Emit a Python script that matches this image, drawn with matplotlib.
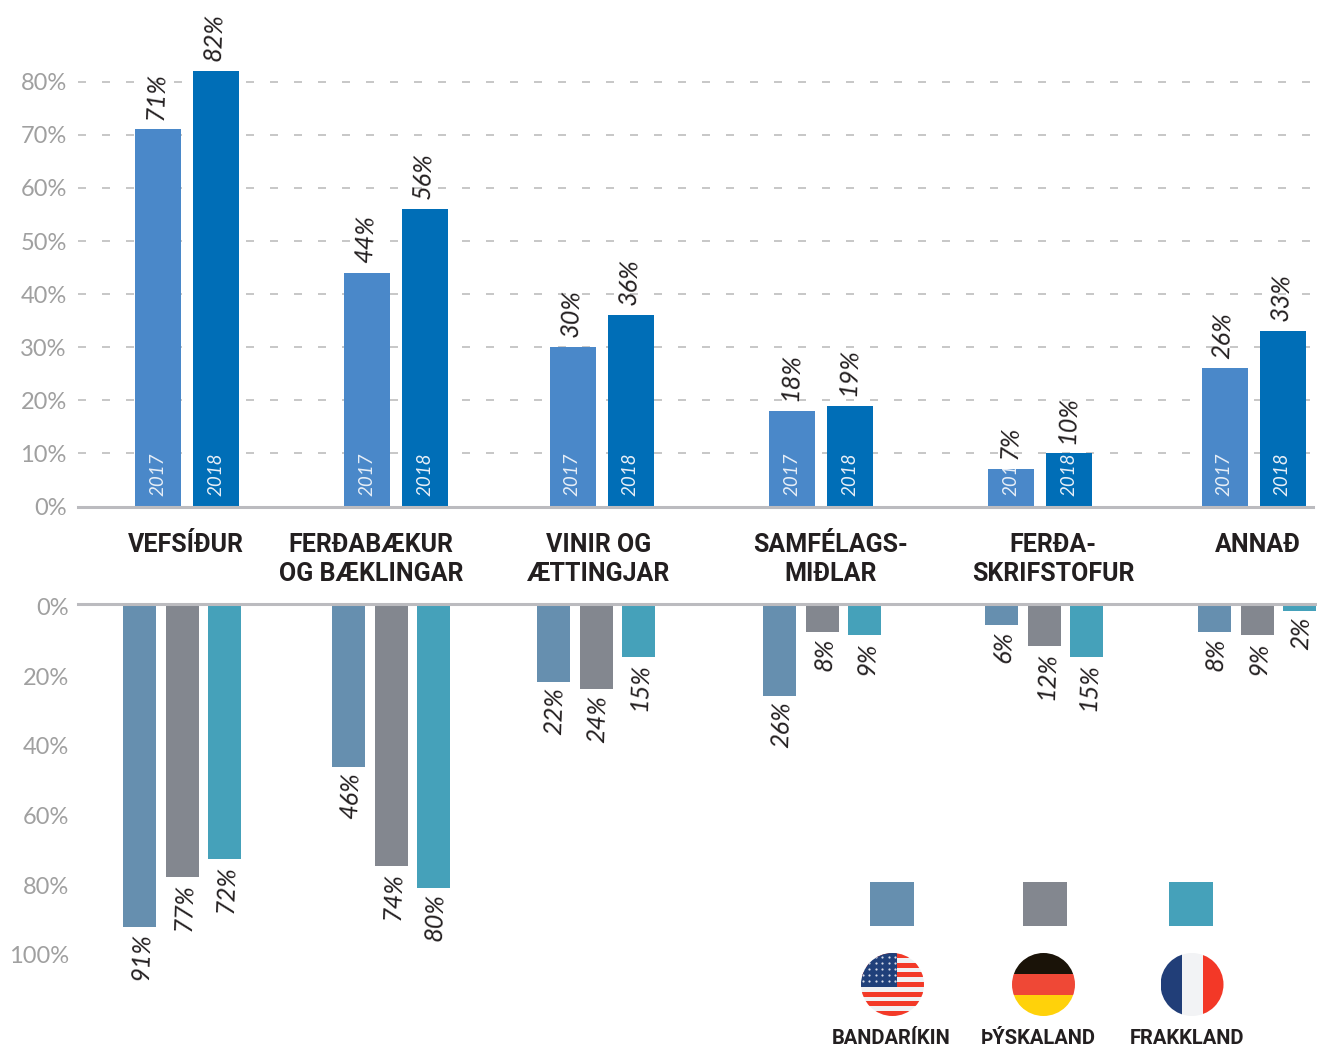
import numpy as np
import matplotlib
matplotlib.use('Agg')
import matplotlib.pyplot as plt
from matplotlib.patches import Circle, Rectangle

categories = ['VEFSÍÐUR', 'FERÐABÆKUR\nOG BÆKLINGAR', 'VINIR OG\nÆTTINGJAR',
              'SAMFÉLAGS-\nMIÐLAR', 'FERÐA-\nSKRIFSTOFUR', 'ANNAÐ']
years = ['2017', '2018']
values_2017 = [71, 44, 30, 18, 7, 26]
values_2018 = [82, 56, 36, 19, 10, 33]
usa = [91, 46, 22, 26, 6, 8]
germany = [77, 74, 24, 8, 12, 9]
france = [72, 80, 15, 9, 15, 2]
countries = ['BANDARÍKIN', 'ÞÝSKALAND', 'FRAKKLAND']

FONT = 'Lato'
BOLD_FONT = 'Roboto'
W, H = 1317, 1047
BLUE_17, BLUE_18 = '#4A88C9', '#006EB7'
COUNTRY_COLORS = ['#668FAF', '#83878F', '#45A1BA']
AXIS = '#BBBBBF'
TICK = '#A0A0A0'
DARK = '#231F20'

plt.rcParams['font.family'] = FONT


def px_axes(left, top, right, bottom):
    return fig.add_axes([left / W, 1 - bottom / H, (right - left) / W, (bottom - top) / H])


fig = plt.figure(figsize=(W / 100, H / 100), dpi=100)

# upper chart
ax = px_axes(78, 0, 1313, 506.5)
ax.set_xlim(78, 1313)
ax.set_ylim(0, 506.5 / 5.31)
top_centers = [187, 396, 601.5, 821, 1040, 1253.5]
ax.set_yticks(range(0, 90, 10))
ax.set_yticklabels([f'{v}%' for v in range(0, 90, 10)], fontsize=17, color=TICK)
ax.tick_params(axis='y', length=0, pad=8)
ax.set_xticks([])
# dash 8px, gap 16px
ax.grid(axis='y', color='#BDBDBD', linestyle=(0, (4.8, 9.6)), linewidth=1.2)
ax.set_axisbelow(True)
for s in ['top', 'right', 'left']:
    ax.spines[s].set_visible(False)
ax.spines['bottom'].set_color(AXIS)
ax.spines['bottom'].set_linewidth(2.2)

for offset, vals, col, year in [(-29, values_2017, BLUE_17, years[0]),
                                (29, values_2018, BLUE_18, years[1])]:
    xs = [c + offset for c in top_centers]
    bars = ax.bar(xs, vals, width=46, color=col, linewidth=0)
    for x, v, b in zip(xs, vals, bars):
        ax.annotate(f'{v}%', (x - 1.5, v), xytext=(0, 7), textcoords='offset points',
                    ha='center', va='bottom', rotation=88, style='italic',
                    fontsize=18, color=DARK, zorder=5)
        t = ax.annotate(year, (x - 0.5, 0), xytext=(0, 7.5), textcoords='offset points',
                        ha='center', va='bottom', rotation=90, style='italic',
                        fontsize=13.5, color='#E6EEF7', zorder=4, annotation_clip=False)
        t.set_clip_path(b)
        t.set_clip_on(True)

# lower chart
ax2 = px_axes(78, 603.5, W, H)
ax2.set_xlim(78, W)
ax2.set_ylim((H - 603.5) / 3.55, 0)
low_centers = [182, 391, 595.5, 822, 1044, 1256.5]
ticks = np.array([0, 20, 40, 60, 80, 100])
ax2.set_yticks(ticks * 0.98 + 0.9)
ax2.set_yticklabels([f'{v}%' for v in ticks], fontsize=17, color=TICK)
ax2.tick_params(axis='y', length=0, pad=6.5)
ax2.set_xticks([])
for s in ['bottom', 'right', 'left']:
    ax2.spines[s].set_visible(False)
ax2.spines['top'].set_color(AXIS)
ax2.spines['top'].set_linewidth(2.2)
ax2.patch.set_alpha(0)

for offset, vals, col in zip([-42.5, 0.5, 42.5], [usa, germany, france], COUNTRY_COLORS):
    xs = [c + offset for c in low_centers]
    ax2.bar(xs, vals, width=33, color=col, linewidth=0)
    for x, v in zip(xs, vals):
        ax2.annotate(f'{v}%', (x + 2, v), xytext=(0, -4), textcoords='offset points',
                     ha='center', va='top', rotation=88, style='italic',
                     fontsize=18, color=DARK)

# overlay in pixel coordinates, for category names and the flag legend
ov = fig.add_axes([0, 0, 1, 1])
ov.set_xlim(0, W)
ov.set_ylim(H, 0)
ov.axis('off')
ov.patch.set_alpha(0)

label_x = [185.5, 371, 599, 831, 1053, 1258]
for x, c in zip(label_x, categories):
    ov.text(x, 532.5, c, ha='center', va='top', fontsize=18, fontweight='bold',
            family=BOLD_FONT, color=DARK, linespacing=1.31)

square_x = [870, 1023, 1169]
flag_x = [892.5, 1043.5, 1192]
name_x = [891, 1038, 1187]
FLAG_Y, R = 984.5, 31.5
for sx, col in zip(square_x, COUNTRY_COLORS):
    ov.add_patch(Rectangle((sx, 882), 44, 44, color=col, linewidth=0))
for nx, name in zip(name_x, countries):
    ov.text(nx, 1038, name, ha='center', va='center', fontsize=14.5, fontweight='bold',
            family=BOLD_FONT, color=DARK)


def flag_rect(clip, x, y, w, h, col):
    r = Rectangle((x, y), w, h, color=col, linewidth=0)
    ov.add_patch(r)
    r.set_clip_path(clip)


# usa
fx = flag_x[0]
clip = Circle((fx, FLAG_Y), R, transform=ov.transData)
flag_rect(clip, fx - R, FLAG_Y - R, 2 * R, 2 * R, '#F0F1F3')
stripe = 2 * R / 13
for i in range(0, 13, 2):
    flag_rect(clip, fx - R, FLAG_Y - R + i * stripe, 2 * R, stripe, '#F33A28')
flag_rect(clip, fx - R, FLAG_Y - R, 36, 34, '#20407A')
sx, sy = np.meshgrid(np.arange(fx - 30, fx + 3, 6.5), np.arange(FLAG_Y - 28, FLAG_Y + 3, 6.2))
stars = ov.scatter(sx.ravel(), sy.ravel(), s=2.5, color='#D5DBE8', linewidths=0)
stars.set_clip_path(clip)

# germany
fx = flag_x[1]
clip = Circle((fx, FLAG_Y), R, transform=ov.transData)
for i, col in enumerate(['#1A1308', '#EF4836', '#FFD20A']):
    flag_rect(clip, fx - R, FLAG_Y - R + i * 21, 2 * R, 21, col)

# france
fx = flag_x[2]
clip = Circle((fx, FLAG_Y), R, transform=ov.transData)
for i, col in enumerate(['#213E78', '#F2F3F5', '#F33827']):
    flag_rect(clip, fx - R + i * 21, FLAG_Y - R, 21, 2 * R, col)

fig.savefig('out.png', dpi=100)
